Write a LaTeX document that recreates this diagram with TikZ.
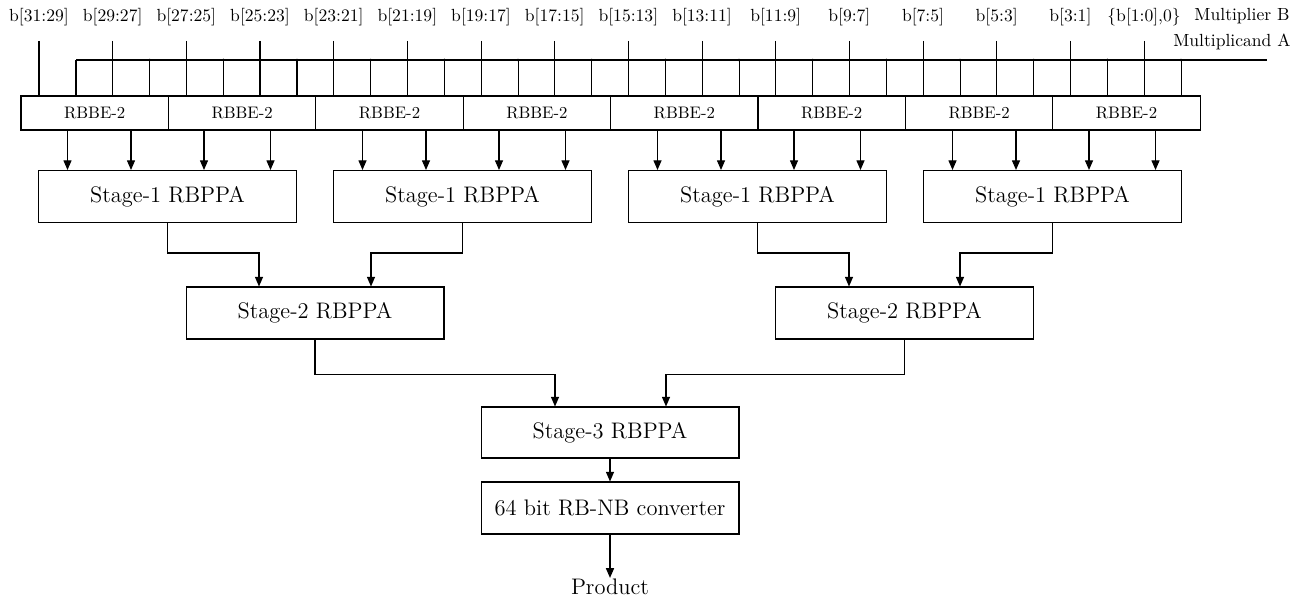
\documentclass[tikz,border=0pt]{standalone}
\usepackage{fontspec}
\usetikzlibrary{arrows.meta,calc}

\begin{document}
\begin{tikzpicture}[x=0.02cm,y=-0.02cm,line width=0.6pt,
  >={Triangle[length=5.5pt,width=4.6pt]},
  lbl/.style={inner sep=0pt,font=\fontsize{10}{12}\selectfont},
  rbbe/.style={draw,minimum width=2.948cm,minimum height=0.68cm,inner sep=0pt,
    font=\fontsize{9.5}{11}\selectfont},
  stage/.style={draw,minimum width=5.16cm,minimum height=1.04cm,inner sep=0pt,
    font=\fontsize{12.8}{15}\selectfont}]

  \useasboundingbox (0,0) rectangle (1304,601);

  % booth encoders
  \foreach \i in {1,...,8}
    \node[rbbe] (rb\i) at ({21+147.4*(\i-0.5)},113) {RBBE-2};

  % multiplier bits
  \foreach \t [count=\k from 0] in {b[31:29],b[29:27],b[27:25],b[25:23],b[23:21],b[21:19],
      b[19:17],b[17:15],b[15:13],b[13:11],b[11:9],b[9:7],b[7:5],b[5:3],b[3:1],{\{b[1:0],0\}}} {
    \node[lbl] (b\k) at ({39+73.67*\k},17) {\t};
    \coordinate (bt\k) at ({39+73.67*\k},41);
    \draw (bt\k) -- (bt\k |- rb1.north);
  }
  \node[lbl,anchor=east] (mulB) at (1290,16) {Multiplier B};
  \node[lbl,anchor=east] (mulA) at (1291,42) {Multiplicand A};

  % multiplicand bus
  \foreach \k in {0,...,15} {
    \coordinate (at\k) at ({76+73.67*\k},60);
    \draw (at\k) -- (at\k |- rb1.north);
  }
  \coordinate (aend) at (1267,60);
  \draw (at0) -- (aend);
  \foreach \k in {1,...,15}
    \fill (at\k) circle (0.8pt);

  % partial product adders
  \foreach \i/\x in {1/167.5,2/462.5,3/757.5,4/1052.5}
    \node[stage] (first\i) at (\x,196.5) {Stage-1 RBPPA};
  \node[stage] (second1) at (315,313) {Stage-2 RBPPA};
  \node[stage] (second2) at (904.5,313) {Stage-2 RBPPA};
  \node[stage,minimum height=1.02cm] (third) at (610,432.5) {Stage-3 RBPPA};
  \node[stage] (conv) at (610,508) {64 bit RB-NB converter};
  \node[inner sep=0pt,anchor=base,font=\fontsize{12.8}{15}\selectfont] (prod) at (610,594) {Product};

  \foreach \i in {1,...,4}
    \foreach \o in {-100,-36.5,36.5,103} {
      \coordinate (in) at ($(first\i.north)+(\o,0)$);
      \draw[->] (in |- rb1.south) -- (in);
    }

  \draw[->] (first1.south) -- ++(0,30) -| ($(second1.north)+(-56,0)$);
  \draw[->] (first2.south) -- ++(0,30) -| ($(second1.north)+(56,0)$);
  \draw[->] (first3.south) -- ++(0,30) -| ($(second2.north)+(-55.5,0)$);
  \draw[->] (first4.south) -- ++(0,30) -| ($(second2.north)+(55.5,0)$);

  \draw[->] (second1.south) -- ++(0,35) -| ($(third.north)+(-55,0)$);
  \draw[->] (second2.south) -- ++(0,35) -| ($(third.north)+(56,0)$);

  \draw[->] (third) -- (conv);
  \draw[->] (conv) -- (prod);
\end{tikzpicture}
\end{document}
